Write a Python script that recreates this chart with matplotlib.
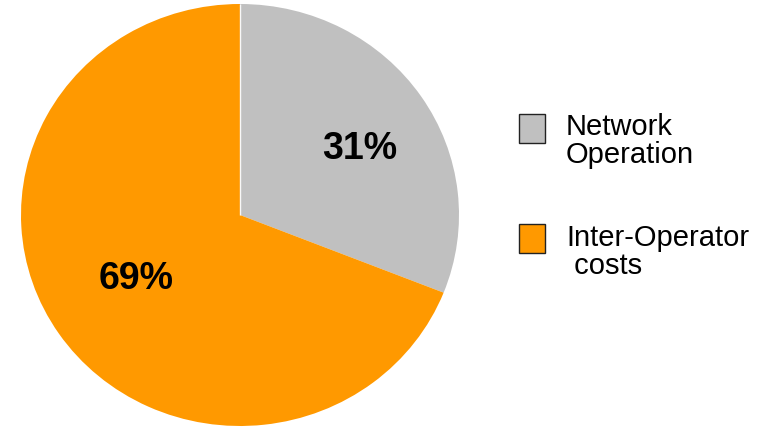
import numpy as np
import matplotlib
matplotlib.use("Agg")
import matplotlib.pyplot as plt
import matplotlib.transforms as mtransforms
from matplotlib.patches import Rectangle

# Cost split
categories = ["Network\nOperation", "Inter-Operator\n costs"]
shares = [31, 69]
colors = ["#C0C0C0", "#FF9900"]

W, H = 760, 429
fig = plt.figure(figsize=(W / 100, H / 100), dpi=100)
fig.patch.set_facecolor("white")

# Pie area (slightly wider than tall)
left, right, top, bottom = 21, 459, 4, 426
ax = fig.add_axes([left / W, 1 - bottom / H, (right - left) / W, (bottom - top) / H])
start = 90
wedges, _ = ax.pie(shares, colors=colors, startangle=start, counterclock=False,
                   wedgeprops=dict(linewidth=0))
ax.set_aspect("auto")
ax.set_xlim(-1, 1)
ax.set_ylim(-1, 1)
ax.axis("off")

# thin separator along the start angle
t0 = np.deg2rad(start)
ax.plot([0, np.cos(t0)], [0, np.sin(t0)], color="white", lw=1.0, alpha=0.9,
        solid_capstyle="butt")

# percentage labels inside the wedges (nudged down so the digits sit centred)
label_r = [0.64, 0.555]
angle_shift = -3.0
nudge = mtransforms.ScaledTranslation(0, -3.5 / 100, fig.dpi_scale_trans)
for w, val, r in zip(wedges, shares, label_r):
    mid = np.deg2rad((w.theta1 + w.theta2) / 2 + angle_shift)
    ax.text(r * np.cos(mid), r * np.sin(mid), f"{val}%", ha="center", va="center",
            fontsize=27, fontweight="bold", family="Liberation Sans", color="black",
            transform=ax.transData + nudge)

# legend: boxes and two-line labels
box_x, box_w, box_h = 519, 26, 28.5
box_tops = [114, 224]
text_x = 566
first_baselines = [135, 246]
line_step = 28
for cat, col, bt, bl in zip(categories, colors, box_tops, first_baselines):
    fig.add_artist(Rectangle((box_x / W, 1 - (bt + box_h) / H), box_w / W, box_h / H,
                             transform=fig.transFigure, facecolor=col,
                             edgecolor="#222222", linewidth=1.0))
    for j, line in enumerate(cat.split("\n")):
        fig.text(text_x / W, 1 - (bl + j * line_step) / H, line, ha="left",
                 va="baseline", fontsize=21, family="Liberation Sans", color="black")

fig.savefig("out.png", dpi=100, facecolor="white")
